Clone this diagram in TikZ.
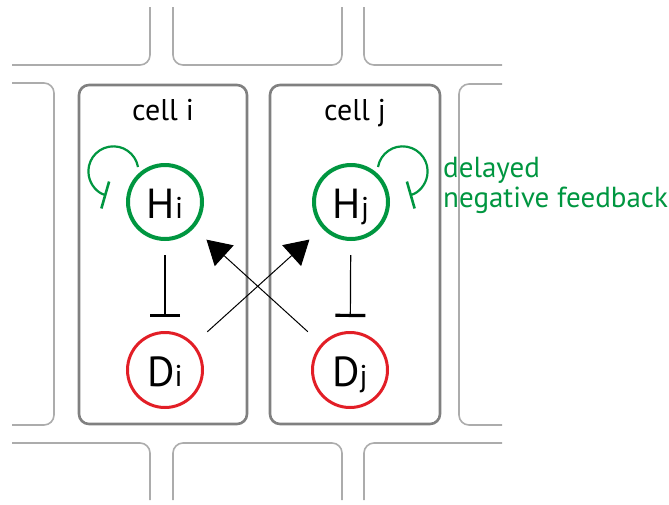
\documentclass[tikz,border=0pt]{standalone}
\usepackage{fontspec}
\setmainfont{PT Sans}
\usetikzlibrary{arrows.meta}
\definecolor{hesgreen}{RGB}{0,150,64}
\definecolor{deltared}{RGB}{226,30,38}
\definecolor{wallgray}{RGB}{172,172,172}
\definecolor{boxgray}{RGB}{128,128,128}
\newcommand{\species}[2]{{\fontsize{42}{42}\selectfont #1}{\fontsize{30}{30}\selectfont #2}}

\begin{document}
\begin{tikzpicture}[x=1pt, y=-1pt,
		wall/.style={draw=wallgray, line width=1.6pt, rounded corners=10pt},
		cellbox/.style={draw=boxgray, line width=2.6pt, rounded corners=10pt},
		hes/.style={circle, draw=hesgreen, line width=4pt, minimum size=74pt, inner sep=0pt, text height=32pt, text depth=0pt},
		delta/.style={circle, draw=deltared, line width=3pt, minimum size=75pt, inner sep=0pt, text height=32pt, text depth=0pt},
		inhib/.style={line width=1.2pt, -{Bar[width=30pt, line width=3.2pt]}, shorten <=14pt, shorten >=14pt},
		act/.style={line width=1pt, -{Triangle[length=24pt, width=28pt]}, shorten <=18pt, shorten >=17pt},
		fb/.style={draw=hesgreen, line width=2.2pt, -{Bar[width=28pt, line width=2.6pt]}},
		celllabel/.style={font=\fontsize{30}{30}\selectfont},
		fblabel/.style={text=hesgreen, align=left, inner sep=0pt, font=\fontsize{29}{30}\selectfont}]
			\useasboundingbox (0,0) rectangle (669,504);

			% Neighbouring cells, top row
			\draw[wall] (12,65) -- (150,65) -- (150,7);
			\draw[wall] (173,7) -- (173,65) -- (342,65) -- (342,7);
			\draw[wall] (364,7) -- (364,65) -- (502,65);

			% Neighbouring cells, middle row
			\draw[wall] (12,83) -- (54,83) -- (54,425) -- (12,425);
			\draw[wall] (502,84) -- (459,84) -- (459,425) -- (502,425);

			% Neighbouring cells, bottom row
			\draw[wall] (12,443) -- (150,443) -- (150,500);
			\draw[wall] (173,500) -- (173,443) -- (342,443) -- (342,500);
			\draw[wall] (364,500) -- (364,443) -- (502,443);

			% The two cells
			\draw[cellbox] (79,85) rectangle (247,424);
			\draw[cellbox] (270,85) rectangle (440,424);
			\node[celllabel, anchor=base] (labeli) at (163,120) {cell i};
			\node[celllabel, anchor=base] (labelj) at (355,120) {cell j};

			% Hes and Delta in each cell
			\node[hes] (Hi) at (165,202) {\species{H}{i}};
			\node[hes] (Hj) at (351,202) {\species{H}{j}};
			\node[delta] (Di) at (165,370) {\species{D}{i}};
			\node[delta] (Dj) at (350,370) {\species{D}{j}};

			% Repression inside a cell
			\draw[inhib] (Hi) -- (Di);
			\draw[inhib] (Hj) -- (Dj);

			% Signalling across the cells
			\draw[act] (Di) -- (Hj);
			\draw[act] (Dj) -- (Hi);

			% Self repression loops
			\draw[fb] ([shift={(-27,-35)}]Hi.center) arc[start angle=-10, end angle=-254, radius=25];
			\draw[fb] ([shift={(27,-35)}]Hj.center) arc[start angle=190, end angle=434, radius=25];
			\node[fblabel, anchor=base west] (fbtext) at (443,207) {delayed\\negative feedback};
		\end{tikzpicture}
\end{document}
